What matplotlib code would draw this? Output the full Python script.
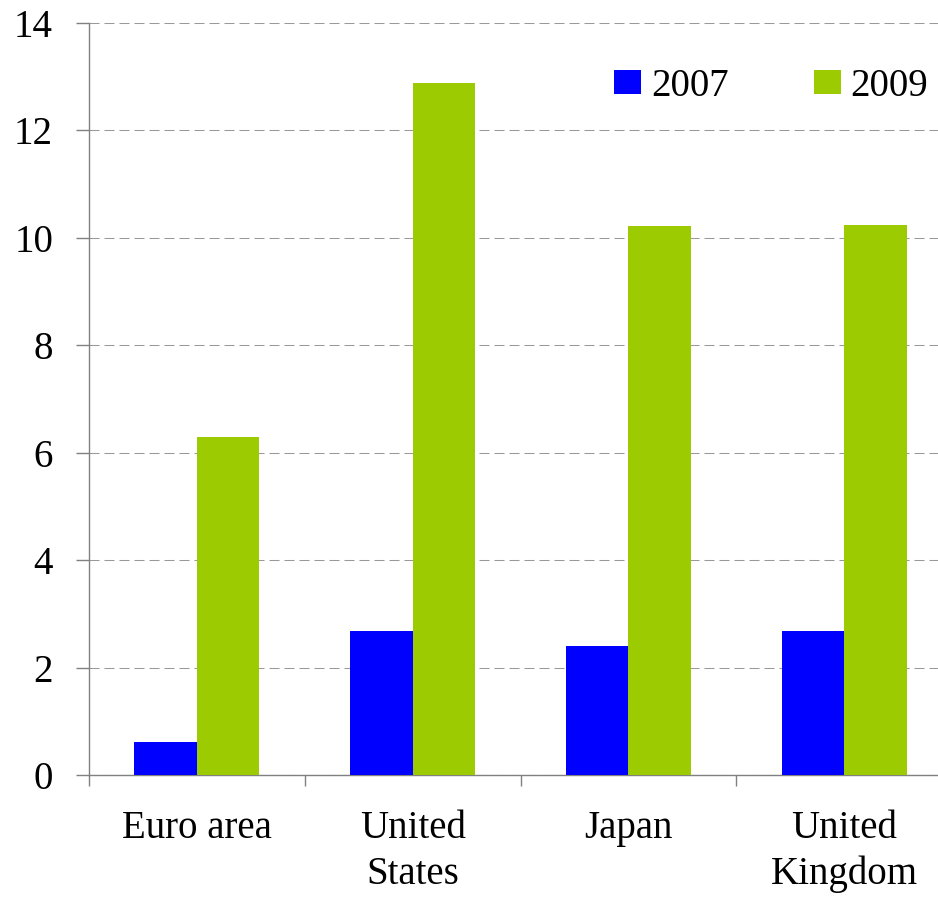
import matplotlib
matplotlib.use("Agg")
import matplotlib.pyplot as plt
import numpy as np

# data
categories = ["Euro area", "United\nStates", "Japan", "United\nKingdom"]
years = ["2007", "2009"]
values_2007 = [0.61, 2.68, 2.40, 2.68]
values_2009 = [6.30, 12.88, 10.22, 10.24]
y_ticks = [0, 2, 4, 6, 8, 10, 12, 14]

blue = "#0000FF"
green = "#9BCB00"
axis_grey = "#808080"
fs = 28

plt.rcParams['font.family'] = ['Liberation Serif', 'DejaVu Serif']

fig = plt.figure(figsize=(9.38, 8.97), dpi=100)
ax = fig.add_axes([89 / 938, 122 / 897, 863 / 938, 752 / 897])

x = np.arange(len(categories)) + 0.5
w = 0.29
ax.bar(x - w / 2, values_2007, w, color=blue, label=years[0], zorder=3)
ax.bar(x + w / 2, values_2009, w, color=green, label=years[1], zorder=3)

ax.set_xlim(0, len(categories))
ax.set_ylim(0, 14)
ax.set_yticks(y_ticks)
ax.set_yticklabels([str(t) for t in y_ticks], fontsize=fs)

# ticks at category boundaries, labels at centres
ax.set_xticks(np.arange(len(categories) + 1))
ax.set_xticklabels([])
ax.set_xticks(x, minor=True)
ax.set_xticklabels(categories, minor=True, fontsize=fs, linespacing=1.32)
ax.tick_params(axis='x', which='major', direction='out', length=8,
               width=1, color=axis_grey)
ax.tick_params(axis='x', which='minor', length=0, pad=25)
ax.tick_params(axis='y', direction='out', length=9.4, width=1,
               color=axis_grey, pad=16.5)

for s in ['top', 'right']:
    ax.spines[s].set_visible(False)
for s in ['left', 'bottom']:
    ax.spines[s].set_color(axis_grey)
    ax.spines[s].set_linewidth(1)

ax.yaxis.grid(True, color="#999999", linewidth=0.75,
              linestyle=(0, (9.6, 4.8)), zorder=0)
ax.set_axisbelow(True)

ax.legend(loc='center left', bbox_to_anchor=(614 / 938, 1 - 86 / 897),
          bbox_transform=fig.transFigure, ncol=2, frameon=False,
          fontsize=fs, handlelength=0.69, handleheight=0.59,
          handletextpad=0.26, columnspacing=2.19, borderpad=0,
          borderaxespad=0)

fig.savefig("out.png", dpi=100)
